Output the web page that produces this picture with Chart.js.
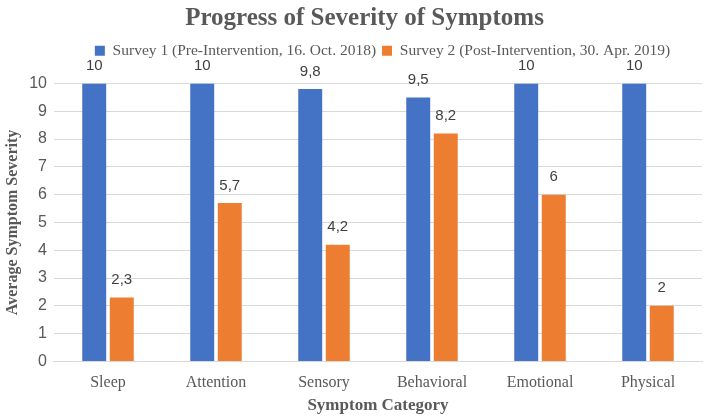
<!DOCTYPE html>
<html>
<head>
<meta charset="utf-8">
<script src="https://cdn.jsdelivr.net/npm/chart.js@4/dist/chart.umd.min.js"></script>
<style>
  html, body { margin: 0; padding: 0; background: #fff; }
  #wrap { width: 708px; height: 416px; }
</style>
</head>
<body>
<div id="wrap"><canvas id="chart" width="708" height="416"></canvas></div>
<script>
// data
const categories = ["Sleep", "Attention", "Sensory", "Behavioral", "Emotional", "Physical"];
const survey1 = [10, 10, 9.8, 9.5, 10, 10];
const survey2 = [2.3, 5.7, 4.2, 8.2, 6, 2];
const seriesNames = [
  "Survey 1 (Pre-Intervention, 16. Oct. 2018)",
  "Survey 2 (Post-Intervention, 30. Apr. 2019)"
];
const yTicks = [0, 1, 2, 3, 4, 5, 6, 7, 8, 9, 10];

const grey = "#595959";
const serif = "'Liberation Serif', 'Times New Roman', serif";
const sans = "'Liberation Sans', Arial, sans-serif";

// value labels above the bars (comma decimals)
const barLabels = {
  id: "barLabels",
  afterDatasetsDraw(chart) {
    const ctx = chart.ctx;
    ctx.save();
    ctx.font = "15px " + sans;
    ctx.fillStyle = "#404040";
    ctx.textAlign = "center";
    ctx.textBaseline = "bottom";
    chart.data.datasets.forEach((ds, i) => {
      chart.getDatasetMeta(i).data.forEach((bar, j) => {
        const txt = String(ds.data[j]).replace(".", ",");
        ctx.fillText(txt, bar.x, bar.y - 10);
      });
    });
    ctx.restore();
  }
};

// extra room under the legend, and title/legend nudged right like the original
const legendGap = {
  id: "legendGap",
  beforeInit(chart) {
    const origFit = chart.legend.fit;
    chart.legend.fit = function () {
      origFit.bind(chart.legend)();
      this.height += 15;
    };
  },
  afterLayout(chart) {
    chart.titleBlock.left += 24;
    chart.legend.left += 60;
  }
};

new Chart(document.getElementById("chart"), {
  type: "bar",
  data: {
    labels: categories,
    datasets: [
      { label: seriesNames[0], data: survey1, backgroundColor: "#4472C4" },
      { label: seriesNames[1], data: survey2, backgroundColor: "#ED7D31" }
    ]
  },
  options: {
    responsive: false,
    animation: false,
    categoryPercentage: 0.51,
    barPercentage: 0.87,
    layout: { padding: { left: 3, right: 6, top: 0, bottom: 0 } },
    scales: {
      x: {
        grid: { display: false },
        border: { color: "#d9d9d9" },
        ticks: { color: grey, font: { family: serif, size: 16 }, padding: 3.5 },
        title: {
          display: true, text: "Symptom Category", color: grey,
          font: { family: serif, size: 17, weight: "bold" },
          padding: { top: 0, bottom: 0 }
        }
      },
      y: {
        min: 0, max: 10,
        afterBuildTicks(axis) { axis.ticks = yTicks.map(v => ({ value: v })); },
        grid: { color: "#d9d9d9", drawTicks: false },
        border: { display: false },
        ticks: { color: grey, font: { family: sans, size: 16 }, padding: 7 },
        title: {
          display: true, text: "Average Symptom Severity", color: grey,
          font: { family: serif, size: 16, weight: "bold" },
          padding: { top: 0, bottom: 0 }
        }
      }
    },
    plugins: {
      title: {
        display: true, text: "Progress of Severity of Symptoms", color: grey,
        font: { family: serif, size: 25, weight: "bold" },
        padding: { top: 4, bottom: 3 }
      },
      legend: {
        labels: {
          color: grey, boxWidth: 10, boxHeight: 10, padding: 6,
          font: { family: serif, size: 15.5 }
        }
      },
      tooltip: { enabled: false }
    }
  },
  plugins: [barLabels, legendGap]
});
</script>
</body>
</html>
